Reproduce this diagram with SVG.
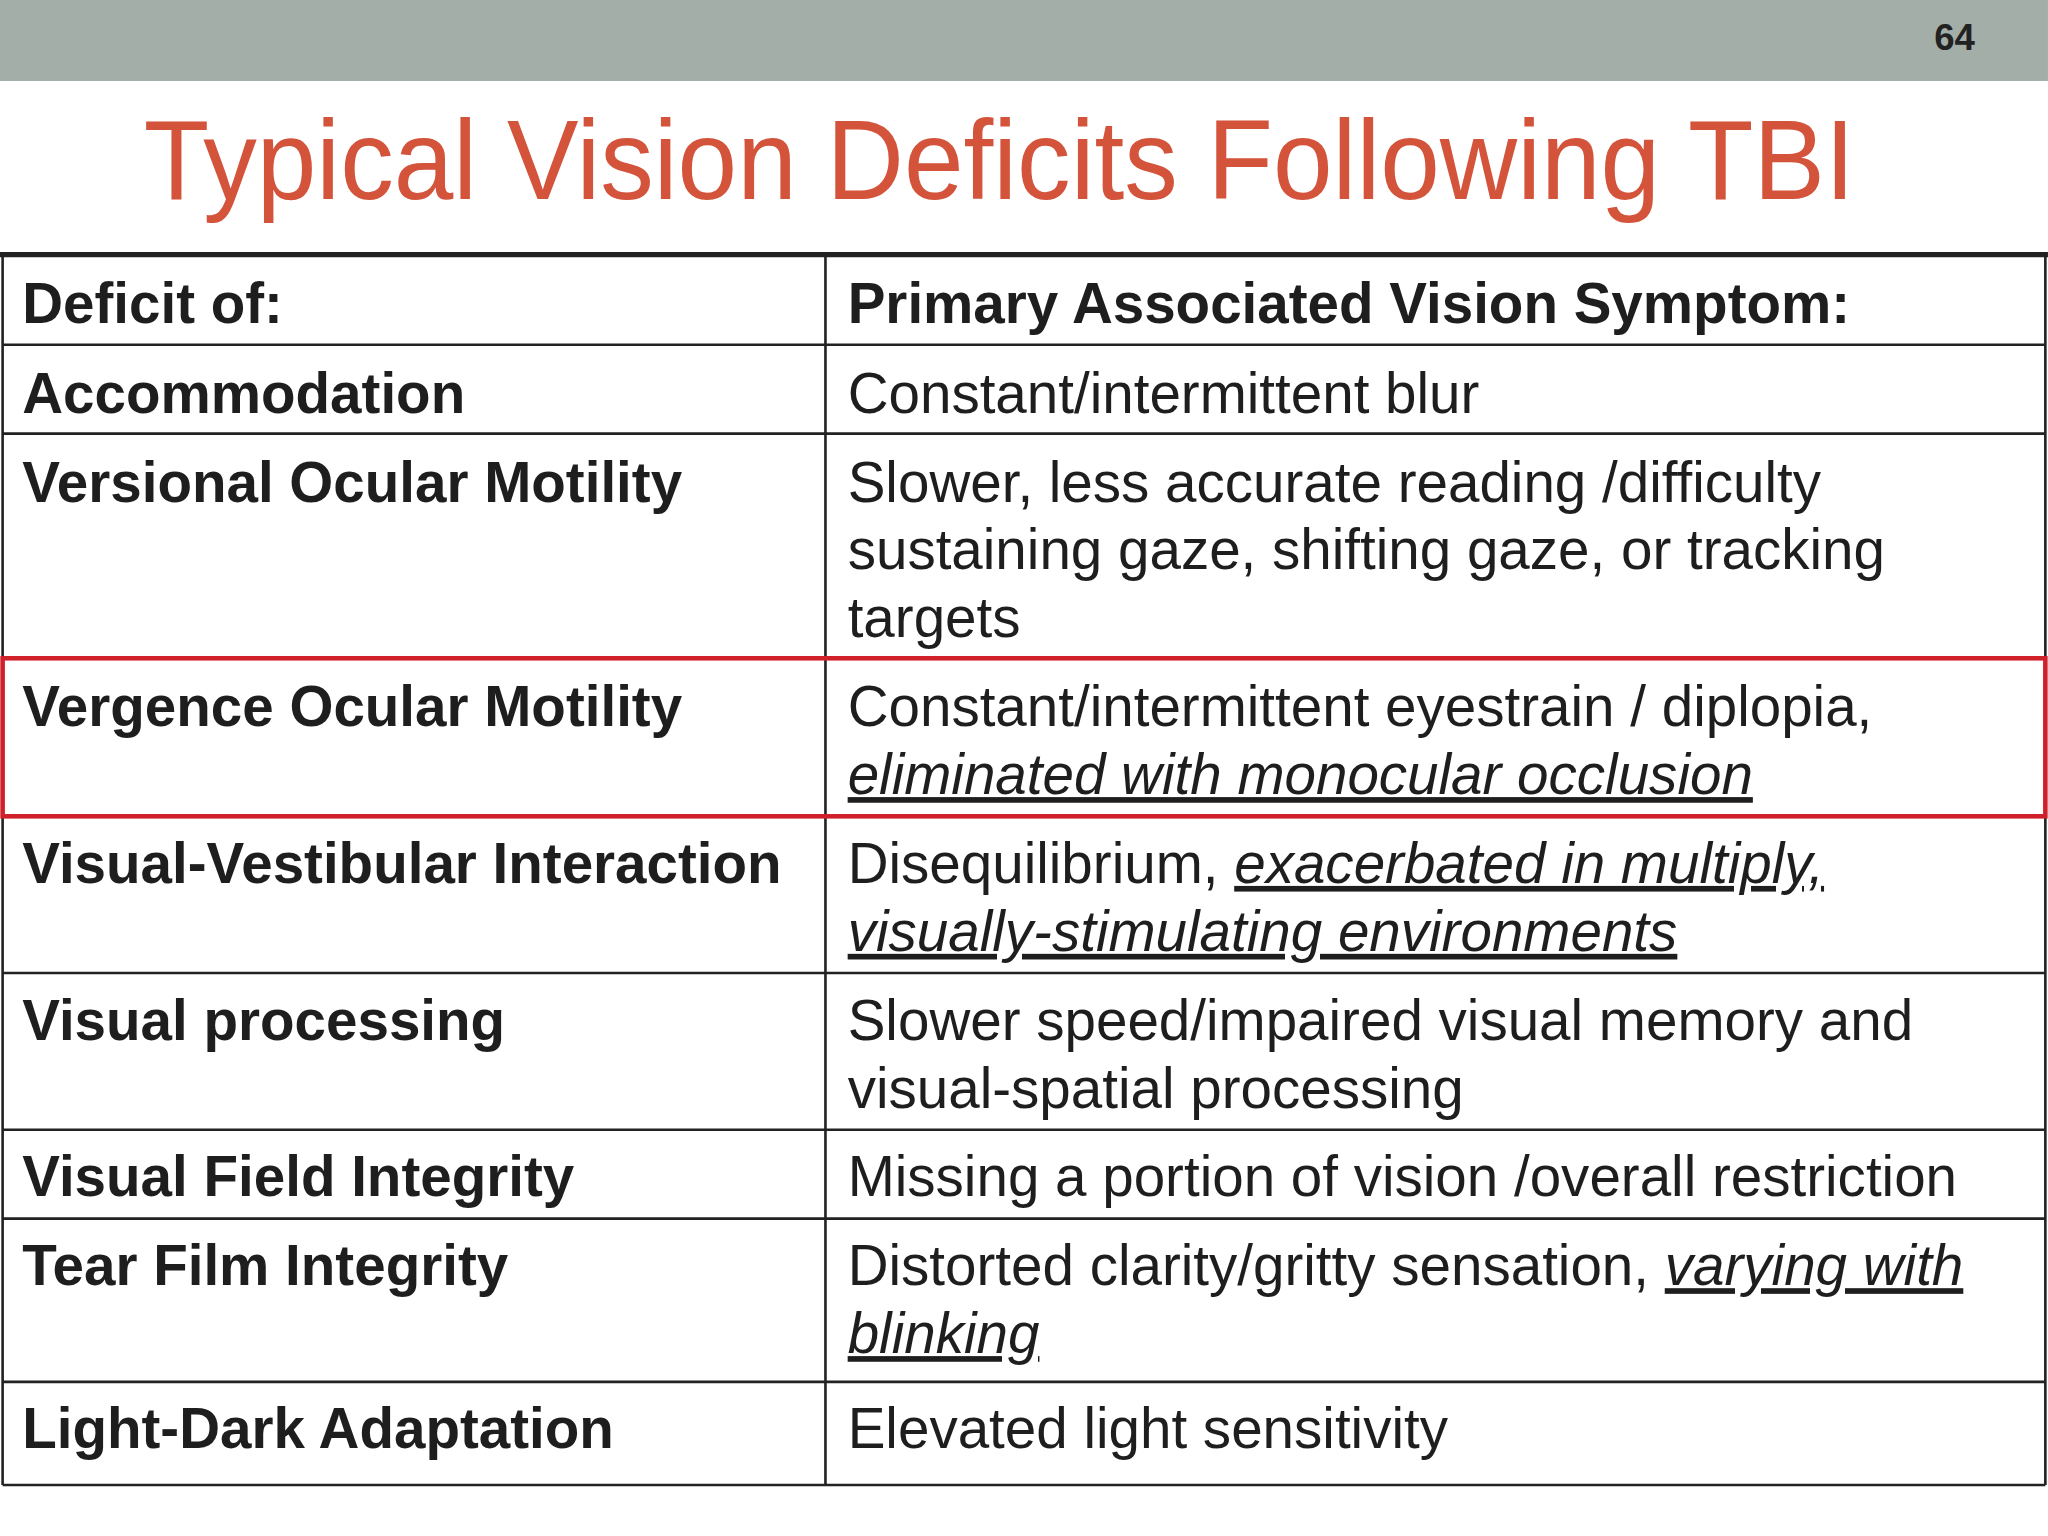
<svg xmlns="http://www.w3.org/2000/svg" width="2048" height="1536" viewBox="0 0 2048 1536">
<style>
.b{font-family:"Liberation Sans",Arial,sans-serif;font-weight:bold;font-size:43.3px;fill:#1e1e1e}
.r{font-family:"Liberation Sans",Arial,sans-serif;font-size:43.3px;fill:#1e1e1e}
.u{font-style:italic;text-decoration:underline}
.ln{stroke:#222;stroke-width:2;fill:none}
</style>
<rect width="2048" height="1536" fill="#fff"/>
<g transform="scale(1.3061)">
<g id="header-bar"><rect x="0" y="0" width="1568" height="62" fill="#a3aea8"/>
<text x="1512" y="38" text-anchor="end" font-family="Liberation Sans,Arial,sans-serif" font-weight="bold" font-size="28" fill="#222">64</text></g>
<g id="title"><text x="110" y="152" textLength="1310" lengthAdjust="spacingAndGlyphs" font-family="Liberation Sans,Arial,sans-serif" font-size="86" fill="#d4533b">Typical Vision Deficits Following TBI</text></g>
<g id="connectors">
<line x1="0" y1="195" x2="1568" y2="195" stroke="#222" stroke-width="4"/>
<line class="ln" x1="2" y1="195" x2="2" y2="1137"/>
<line class="ln" x1="1566" y1="195" x2="1566" y2="1137"/>
<line class="ln" x1="632" y1="195" x2="632" y2="1137"/>
<line class="ln" x1="2" y1="264" x2="1566" y2="264"/>
<line class="ln" x1="2" y1="332" x2="1566" y2="332"/>
<line class="ln" x1="2" y1="745" x2="1566" y2="745"/>
<line class="ln" x1="2" y1="865" x2="1566" y2="865"/>
<line class="ln" x1="2" y1="933" x2="1566" y2="933"/>
<line class="ln" x1="2" y1="1058" x2="1566" y2="1058"/>
<line class="ln" x1="2" y1="1137" x2="1566" y2="1137"/>
<rect x="2" y="504" width="1564" height="121" fill="none" stroke="#d0202a" stroke-width="3.5"/>
</g>
<g id="row-header"><text class="b" x="17" y="247">Deficit of:</text><text class="b" x="649" y="247">Primary Associated Vision Symptom:</text></g>
<g id="row-accommodation"><text class="b" x="17" y="316">Accommodation</text><text class="r" x="649" y="316">Constant/intermittent blur</text></g>
<g id="row-versional"><text class="b" x="17" y="384">Versional Ocular Motility</text>
<text class="r" x="649" y="384">Slower, less accurate reading /difficulty</text>
<text class="r" x="649" y="436">sustaining gaze, shifting gaze, or tracking</text>
<text class="r" x="649" y="488">targets</text></g>
<g id="row-vergence"><text class="b" x="17" y="556">Vergence Ocular Motility</text>
<text class="r" x="649" y="556">Constant/intermittent eyestrain / diplopia,</text>
<text class="r u" x="649" y="608">eliminated with monocular occlusion</text></g>
<g id="row-vestibular"><text class="b" x="17" y="676">Visual-Vestibular Interaction</text>
<text class="r" x="649" y="676">Disequilibrium, <tspan class="u">exacerbated in multiply,</tspan></text>
<text class="r u" x="649" y="728">visually-stimulating environments</text></g>
<g id="row-processing"><text class="b" x="17" y="796">Visual processing</text>
<text class="r" x="649" y="796">Slower speed/impaired visual memory and</text>
<text class="r" x="649" y="848">visual-spatial processing</text></g>
<g id="row-field"><text class="b" x="17" y="916">Visual Field Integrity</text>
<text class="r" x="649" y="916">Missing a portion of vision /overall restriction</text></g>
<g id="row-tear"><text class="b" x="17" y="984">Tear Film Integrity</text>
<text class="r" x="649" y="984">Distorted clarity/gritty sensation, <tspan class="u">varying with</tspan></text>
<text class="r u" x="649" y="1036">blinking</text></g>
<g id="row-light"><text class="b" x="17" y="1109">Light-Dark Adaptation</text>
<text class="r" x="649" y="1109">Elevated light sensitivity</text></g>
</g>
</svg>
